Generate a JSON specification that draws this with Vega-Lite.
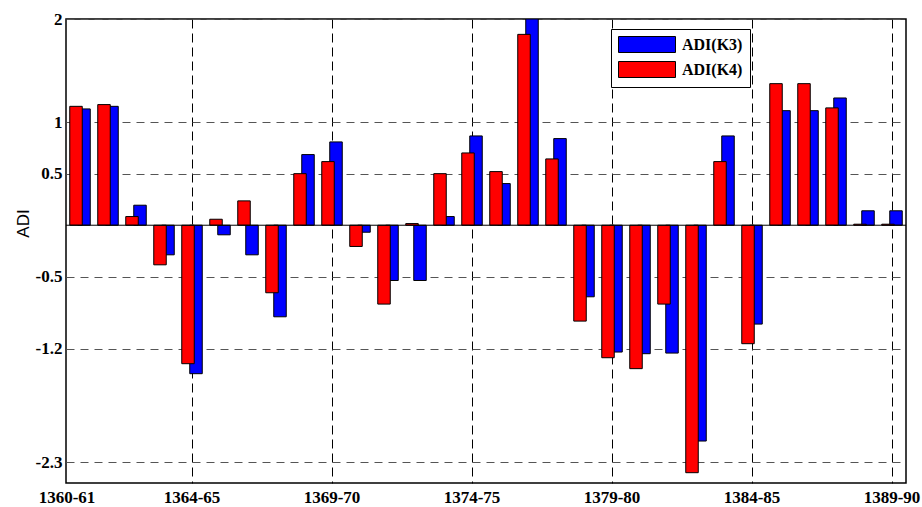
{
  "$schema": "https://vega.github.io/schema/vega-lite/v6.json",
  "width": 840,
  "height": 464,
  "autosize": {"type": "none"},
  "padding": {"left": 66, "top": 19, "right": 16, "bottom": 24},
  "background": "white",
  "config": {
    "view": {"stroke": "black", "strokeWidth": 1.5},
    "font": "Liberation Serif"
  },
  "data": {
    "values": [
      {"period": "1360-61", "K4": 1.153, "K3": 1.128},
      {"period": "1361-62", "K4": 1.17, "K3": 1.153},
      {"period": "1362-63", "K4": 0.084, "K3": 0.194},
      {"period": "1363-64", "K4": -0.384, "K3": -0.287},
      {"period": "1364-65", "K4": -1.343, "K3": -1.44},
      {"period": "1365-66", "K4": 0.058, "K3": -0.093},
      {"period": "1366-67", "K4": 0.236, "K3": -0.287},
      {"period": "1367-68", "K4": -0.655, "K3": -0.888},
      {"period": "1368-69", "K4": 0.5, "K3": 0.685},
      {"period": "1369-70", "K4": 0.617, "K3": 0.808},
      {"period": "1370-71", "K4": -0.206, "K3": -0.068},
      {"period": "1371-72", "K4": -0.765, "K3": -0.536},
      {"period": "1372-73", "K4": 0.016, "K3": -0.536},
      {"period": "1373-74", "K4": 0.5, "K3": 0.084},
      {"period": "1374-75", "K4": 0.701, "K3": 0.866},
      {"period": "1375-76", "K4": 0.52, "K3": 0.404},
      {"period": "1376-77", "K4": 1.851, "K3": 2.0},
      {"period": "1377-78", "K4": 0.643, "K3": 0.84},
      {"period": "1378-79", "K4": -0.93, "K3": -0.694},
      {"period": "1379-80", "K4": -1.285, "K3": -1.23},
      {"period": "1380-81", "K4": -1.391, "K3": -1.246},
      {"period": "1381-82", "K4": -0.765, "K3": -1.24},
      {"period": "1382-83", "K4": -2.4, "K3": -2.093},
      {"period": "1383-84", "K4": 0.617, "K3": 0.866},
      {"period": "1384-85", "K4": -1.149, "K3": -0.959},
      {"period": "1385-86", "K4": 1.373, "K3": 1.111},
      {"period": "1386-87", "K4": 1.373, "K3": 1.111},
      {"period": "1387-88", "K4": 1.138, "K3": 1.234},
      {"period": "1388-89", "K4": 0.01, "K3": 0.14},
      {"period": "1389-90", "K4": 0.01, "K3": 0.14}
    ]
  },
  "layer": [
    {
      "mark": {"type": "bar", "width": 12.5, "xOffset": 4, "stroke": "black", "strokeWidth": 1, "clip": true},
      "encoding": {
        "x": {
          "field": "period", "type": "nominal", "sort": null,
          "scale": {"paddingInner": 0, "paddingOuter": 0},
          "axis": {
            "values": ["1360-61", "1364-65", "1369-70", "1374-75", "1379-80", "1384-85", "1389-90"],
            "title": null, "domain": false, "ticks": false, "labelAngle": 0,
            "labelFont": "Liberation Serif", "labelFontWeight": "bold", "labelFontSize": 17, "labelColor": "black",
            "labelPadding": 6,
            "labelOffset": {"condition": {"test": "datum.value === '1360-61'", "value": -13}, "value": 0},
            "grid": true, "gridDash": [9, 5], "gridColor": "black", "gridWidth": 1,
            "gridOpacity": {"condition": {"test": "datum.value === '1360-61'", "value": 0}, "value": 1}
          }
        },
        "y": {
          "field": "K3", "type": "quantitative",
          "scale": {"domain": [-2.5, 2], "nice": false, "zero": false},
          "axis": {
            "values": [-2.3, -1.2, -0.5, 0.5, 1, 2],
            "labelExpr": "'' + datum.value",
            "title": "ADI", "domain": false, "ticks": false,
            "labelFont": "Liberation Serif", "labelFontWeight": "bold", "labelFontSize": 17, "labelColor": "black",
            "labelPadding": 4,
            "grid": true, "gridDash": [8, 6], "gridColor": "#555", "gridWidth": 1,
            "titleFont": "Liberation Sans", "titleFontWeight": "normal", "titleFontSize": 17, "titleColor": "black",
            "titleX": -43, "titleY": 204, "titleAngle": -90, "titleBaseline": "middle", "titleAlign": "center"
          }
        },
        "color": {
          "datum": "ADI(K3)",
          "scale": {"domain": ["ADI(K3)", "ADI(K4)"], "range": ["#0000FF", "#FF0000"]},
          "legend": {
            "title": null, "orient": "none", "legendX": 545, "legendY": 10,
            "direction": "vertical",
            "strokeColor": "black", "fillColor": "white", "padding": 7,
            "symbolType": "M-1,-1H6.125V1H-1Z", "symbolSize": 256,
            "symbolStrokeColor": "black", "symbolStrokeWidth": 1, "symbolOpacity": 1,
            "labelFont": "Liberation Serif", "labelFontWeight": "bold", "labelFontSize": 16, "labelColor": "black",
            "labelOffset": 47, "rowPadding": 4
          }
        }
      }
    },
    {
      "mark": {"type": "bar", "width": 12.5, "xOffset": -4, "stroke": "black", "strokeWidth": 1, "clip": true},
      "encoding": {
        "x": {"field": "period", "type": "nominal", "sort": null},
        "y": {"field": "K4", "type": "quantitative"},
        "color": {"datum": "ADI(K4)"}
      }
    },
    {
      "data": {"values": [{}]},
      "mark": {"type": "rule", "color": "black", "strokeWidth": 1},
      "encoding": {"y": {"datum": 0}}
    }
  ]
}
